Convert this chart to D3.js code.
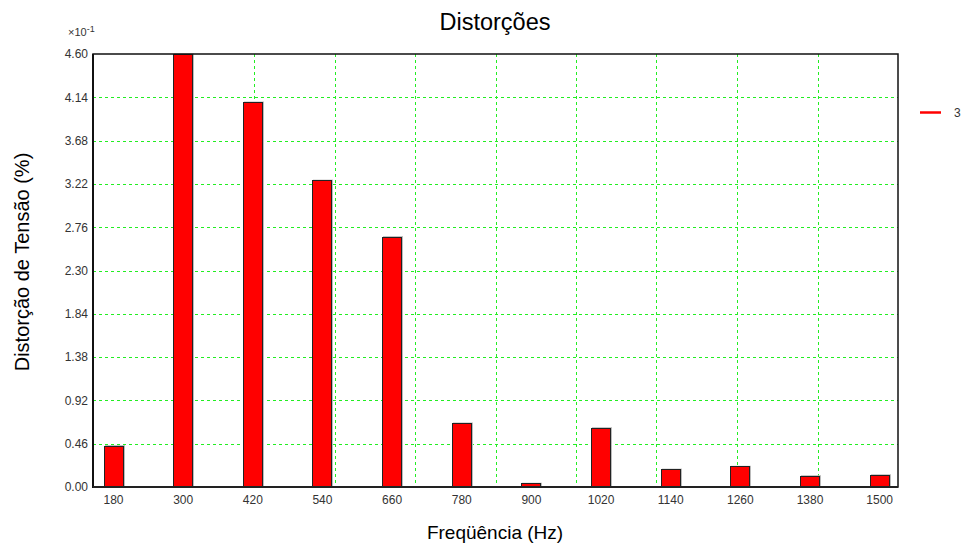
<!DOCTYPE html>
<html><head><meta charset="utf-8">
<script src="https://cdn.jsdelivr.net/npm/d3@7"></script>
<style>body{margin:0;background:#fff;overflow:hidden}svg{display:block}text{font-family:"Liberation Sans",Arial,sans-serif}</style>
</head><body>
<script>
const frequencies = [180,300,420,540,660,780,900,1020,1140,1260,1380,1500];
const distortion = [0.44,4.60,4.09,3.26,2.66,0.68,0.04,0.63,0.19,0.22,0.12,0.13];
const yTicks = [0,0.46,0.92,1.38,1.84,2.30,2.76,3.22,3.68,4.14,4.60];
const title = "Distorções";
const xLabel = "Freqüência (Hz)";
const yLabel = "Distorção de Tensão (%)";
const legendLabel = "3";

const W=964,H=544;
const m={l:93,r:898,t:54,b:487};
const svg=d3.select("body").append("svg").attr("width",W).attr("height",H);
const x=d3.scaleLinear().domain([145.5,1532.5]).range([m.l,m.r]);
const y=d3.scaleLinear().domain([0,4.6]).range([m.b,m.t]);
const gx=d3.scaleLinear().domain([0,10]).range([m.l,m.r]);

// grid
const grid=svg.append("g").attr("stroke","#22ee22").attr("stroke-dasharray","3,3").attr("stroke-width",1);
yTicks.slice(1,-1).forEach(v=>grid.append("line").attr("x1",m.l).attr("x2",m.r).attr("y1",Math.round(y(v))+0.5).attr("y2",Math.round(y(v))+0.5));
d3.range(1,10).forEach(k=>grid.append("line").attr("y1",m.t).attr("y2",m.b).attr("x1",Math.round(gx(k))+0.5).attr("x2",Math.round(gx(k))+0.5));

// bars
const bw=19;
const bars=svg.append("g");
frequencies.forEach((f,i)=>{
  const top=Math.max(y(distortion[i]),m.t);
  bars.append("rect").attr("x",Math.round(x(f)-bw/2)+1.5).attr("y",top).attr("width",bw).attr("height",m.b-top)
    .attr("fill","none").attr("stroke","#bbb").attr("stroke-width",1);
  bars.append("rect").attr("x",Math.round(x(f)-bw/2)+0.5).attr("y",Math.round(top)+0.5).attr("width",bw).attr("height",m.b-Math.round(top))
    .attr("fill","#ff0000").attr("stroke","#222").attr("stroke-width",1);
});

// frame
svg.append("rect").attr("x",m.l).attr("y",m.t).attr("width",m.r-m.l).attr("height",m.b-m.t).attr("fill","none").attr("stroke","#111").attr("stroke-width",1.5);
svg.append("line").attr("x1",m.l).attr("x2",m.l).attr("y1",m.t).attr("y2",m.b+1).attr("stroke","#111").attr("stroke-width",2);
svg.append("line").attr("x1",m.l).attr("x2",m.r).attr("y1",m.b).attr("y2",m.b).attr("stroke","#222").attr("stroke-width",2);

// axes labels
const yAxis=d3.axisLeft(y).tickValues(yTicks).tickFormat(d3.format(".2f")).tickSize(0).tickPadding(5);
const ya=svg.append("g").attr("transform",`translate(${m.l},0)`).call(yAxis);
ya.select(".domain").remove();
ya.selectAll("text").attr("font-size",12).attr("fill","#333").attr("font-family","Liberation Sans, Arial");
const xAxis=d3.axisBottom(x).tickValues(frequencies).tickFormat(d3.format("d")).tickSize(0).tickPadding(8);
const xa=svg.append("g").attr("transform",`translate(0,${m.b})`).call(xAxis);
xa.select(".domain").remove();
xa.selectAll("text").attr("font-size",12).attr("fill","#333").attr("font-family","Liberation Sans, Arial");

// multiplier
const mult=svg.append("text").attr("x",68).attr("y",36).attr("font-size",11).attr("fill","#333");
mult.append("tspan").text("×10");
mult.append("tspan").attr("dy",-4).attr("font-size",9).text("-1");

// titles
svg.append("text").attr("x",495).attr("y",30).attr("text-anchor","middle").attr("font-size",23.5).attr("fill","#000").text(title);
svg.append("text").attr("x",495).attr("y",539).attr("text-anchor","middle").attr("font-size",19).attr("fill","#000").text(xLabel);
svg.append("text").attr("transform","translate(29,262) rotate(-90)").attr("text-anchor","middle").attr("font-size",20).attr("fill","#000").text(yLabel);

// legend
svg.append("line").attr("x1",920).attr("x2",941).attr("y1",112.5).attr("y2",112.5).attr("stroke","#ff0000").attr("stroke-width",2.5);
svg.append("text").attr("x",954).attr("y",117).attr("font-size",12).attr("fill","#333").text(legendLabel);
</script>
</body></html>
